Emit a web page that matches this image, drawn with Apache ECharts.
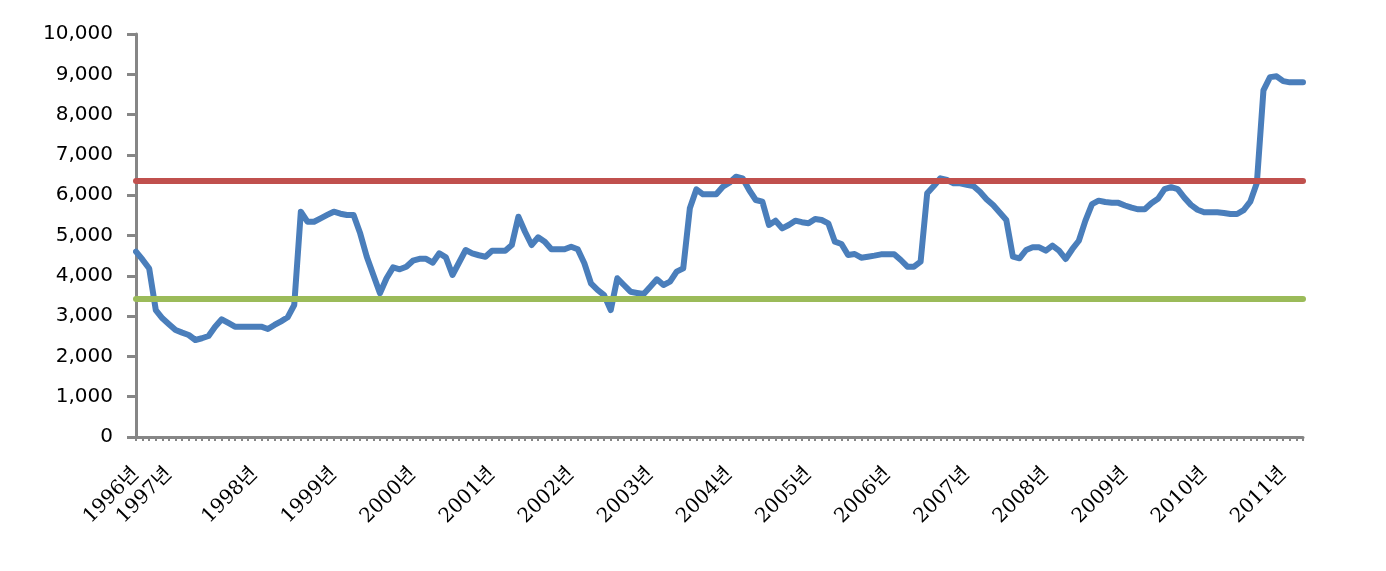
<!DOCTYPE html>
<html>
<head>
<meta charset="utf-8">
<script src="https://cdn.jsdelivr.net/npm/echarts@6/dist/echarts.min.js"></script>
<style>
html,body{margin:0;padding:0;background:#fff;}
#chart{width:1386px;height:571px;}
</style>
</head>
<body>
<div id="chart"></div>
<script>
// Year labels and the category index at which each one sits
const yearLabels = ['1996년','1997년','1998년','1999년','2000년','2001년','2002년','2003년','2004년','2005년','2006년','2007년','2008년','2009년','2010년','2011년'];
const yearLabelPos = [0,5,18,30,42,54,66,78,90,102,114,126,138,150,162,174];

// Monthly series values
const values = [
4600,4400,4180,3150,2945,2800,2655,2590,2531,2407,
2450,2506,2737,2920,2830,2737,2737,2737,2737,2737,
2680,2780,2870,2970,3275,5590,5342,5342,5426,5510,
5590,5540,5508,5508,5054,4474,4020,3566,3938,4210,
4161,4226,4375,4420,4420,4326,4558,4458,4020,4330,
4640,4558,4510,4474,4623,4623,4623,4764,5467,5094,
4764,4955,4846,4657,4657,4657,4722,4657,4310,3814,
3650,3520,3151,3938,3772,3605,3575,3548,3730,3913,
3772,3854,4102,4186,5675,6146,6022,6022,6022,6211,
6310,6459,6419,6129,5881,5839,5261,5368,5178,5261,
5368,5330,5302,5409,5385,5302,4846,4789,4516,4541,
4450,4474,4500,4533,4533,4533,4392,4226,4226,4350,
6047,6228,6419,6377,6295,6295,6260,6228,6087,5900,
5757,5570,5385,4474,4434,4640,4707,4707,4623,4747,
4623,4417,4660,4870,5370,5780,5864,5830,5814,5810,
5745,5690,5650,5650,5800,5910,6150,6200,6150,5940,
5760,5640,5575,5575,5575,5560,5533,5533,5630,5839,
6300,8600,8930,8950,8830,8800,8800,8800
];

// Reference levels
const upperLevel = 6360;
const lowerLevel = 3420;

// Y axis range
const yMin = 0, yMax = 10000, yStep = 1000;

const categories = values.map((v, i) => {
  const k = yearLabelPos.indexOf(i);
  return k >= 0 ? yearLabels[k] : '';
});

const chart = echarts.init(document.getElementById('chart'), null, {renderer: 'canvas'});
const axisGray = '#868686';
chart.setOption({
  animation: false,
  backgroundColor: '#ffffff',
  grid: {left: 136, right: 83, top: 34, bottom: 134, containLabel: false},
  xAxis: {
    type: 'category',
    data: categories,
    boundaryGap: false,
    axisLine: {show: true, lineStyle: {color: axisGray, width: 3}},
    axisTick: {show: true, interval: 0, length: 4, lineStyle: {color: axisGray, width: 2}},
    axisLabel: {
      interval: 0, rotate: 45, margin: 34,
      fontFamily: "'DejaVu Serif', 'Noto Sans CJK KR'", fontSize: 20, color: '#000'
    },
    splitLine: {show: false}
  },
  yAxis: {
    type: 'value',
    min: yMin, max: yMax, interval: yStep,
    axisLine: {show: true, lineStyle: {color: axisGray, width: 3}},
    axisTick: {show: true, length: 9, lineStyle: {color: axisGray, width: 3}},
    axisLabel: {
      margin: 23, fontFamily: "'DejaVu Sans'", fontSize: 20, color: '#000',
      formatter: v => v.toLocaleString('en-US')
    },
    splitLine: {show: false}
  },
  series: [{
    type: 'line',
    data: values,
    symbol: 'none',
    smooth: false,
    lineStyle: {color: '#4A7EBB', width: 6, join: 'round', cap: 'round'},
    markLine: {
      silent: true,
      symbol: ['none', 'none'],
      label: {show: false},
      data: [
        {yAxis: upperLevel, lineStyle: {color: '#C0504D', width: 6, type: 'solid', cap: 'round'}},
        {yAxis: lowerLevel, lineStyle: {color: '#9BBB59', width: 6, type: 'solid', cap: 'round'}}
      ]
    }
  }]
});
</script>
</body>
</html>
